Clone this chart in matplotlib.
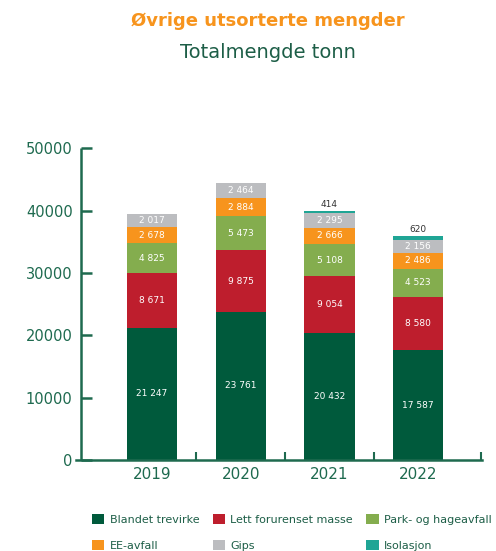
import matplotlib
matplotlib.use("Agg")
import matplotlib.pyplot as plt
from matplotlib.patches import Patch

years = ["2019", "2020", "2021", "2022"]
series_names = ["Blandet trevirke", "Lett forurenset masse", "Park- og hageavfall",
                "EE-avfall", "Gips", "Isolasjon"]
blandet_trevirke = [21247, 23761, 20432, 17587]
lett_forurenset = [8671, 9875, 9054, 8580]
park_hage = [4825, 5473, 5108, 4523]
ee_avfall = [2678, 2884, 2666, 2486]
gips = [2017, 2464, 2295, 2156]
isolasjon = [0, 0, 414, 620]
y_ticks = [0, 10000, 20000, 30000, 40000, 50000]

colors = ["#005a3c", "#be1e2d", "#84ad4e", "#f7941d", "#bcbdc0", "#1fa595"]
axis_green = "#1e6a4f"

plt.rcParams["font.family"] = ["DejaVu Sans"]

fig = plt.figure(figsize=(4.96, 5.51), dpi=100)
ax = fig.add_axes([0.153, 0.165, 0.819, 0.566])

x = list(range(len(years)))
stack = [blandet_trevirke, lett_forurenset, park_hage, ee_avfall, gips, isolasjon]
bottom = [0] * len(years)


def fmt(v):
    return f"{v:,}".replace(",", " ")


for i, (vals, col) in enumerate(zip(stack, colors)):
    ax.bar(x, vals, bottom=bottom, width=0.565, color=col, linewidth=0)
    for xi, v, b in zip(x, vals, bottom):
        if v <= 0:
            continue
        if i == len(stack) - 1:
            ax.text(xi, b + v + 350, fmt(v), ha="center", va="bottom",
                    fontsize=6.5, color="#333333")
        else:
            ax.text(xi, b + v / 2, fmt(v), ha="center", va="center",
                    fontsize=6.5, color="white")
    bottom = [b + v for b, v in zip(bottom, vals)]

ax.set_xlim(-0.857, 3.72)
ax.set_ylim(0, 50000)

for s in ["top", "right"]:
    ax.spines[s].set_visible(False)
ax.spines["left"].set_position(("data", -0.80))
for s in ["left", "bottom"]:
    ax.spines[s].set_color(axis_green)
    ax.spines[s].set_linewidth(1.8)
ax.spines["left"].set_capstyle("butt")

ax.set_yticks(y_ticks)
ax.set_yticklabels([str(t) for t in y_ticks])
ax.tick_params(axis="y", direction="in", length=8, width=1.8, colors=axis_green,
               labelsize=10.5, pad=6)

ax.set_xticks(x)
ax.set_xticklabels(years)
ax.tick_params(axis="x", which="major", length=0, labelsize=11, labelcolor=axis_green, pad=5)
ax.set_xticks([0.5, 1.5, 2.5, 3.71], minor=True)
ax.tick_params(axis="x", which="minor", direction="in", length=6, width=1.5, color=axis_green)

fig.text(0.54, 0.962, "Øvrige utsorterte mengder", ha="center", va="center",
         fontsize=13, fontweight="bold", color="#f7941d")
fig.text(0.54, 0.905, "Totalmengde tonn", ha="center", va="center",
         fontsize=14, color="#1d5e47")

handles = [Patch(facecolor=c, edgecolor="none") for c in colors]
order = [0, 3, 1, 4, 2, 5]
leg = fig.legend([handles[i] for i in order], [series_names[i] for i in order],
                 ncol=3, loc="lower left", bbox_to_anchor=(0.165, -0.018),
                 frameon=False, fontsize=8, handlelength=1.1, handleheight=1.1,
                 handletextpad=0.5, columnspacing=1.2, labelspacing=1.35)
for t in leg.get_texts():
    t.set_color("#1d5e47")

fig.savefig("out.png", dpi=100)
